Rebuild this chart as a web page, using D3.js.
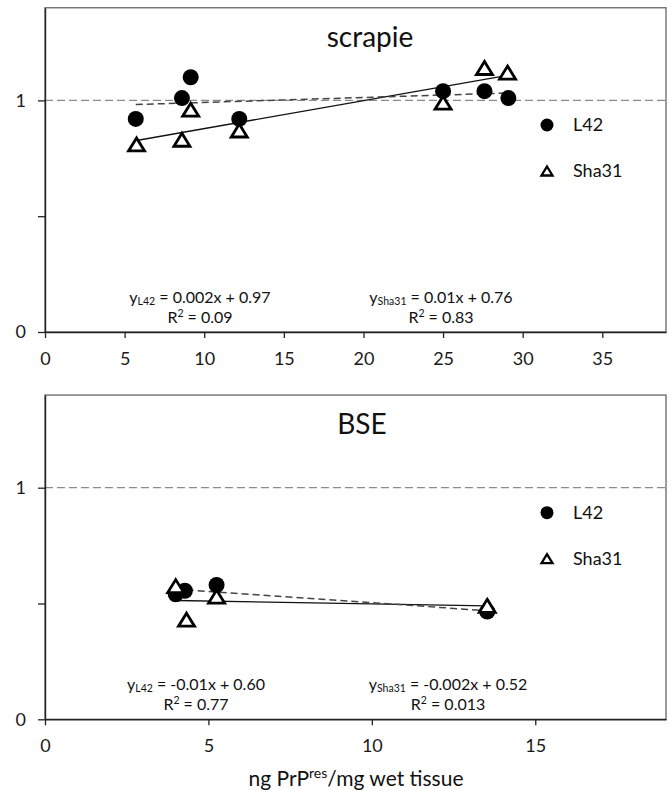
<!DOCTYPE html>
<html lang="en">
<head>
<meta charset="utf-8">
<title>PrPres ratio vs ng PrPres</title>
<script src="https://d3js.org/d3.v7.min.js"></script>
<style>
  body { margin: 0; background: #fff; }
  svg { font-family: "Lato", "Open Sans", sans-serif; }
</style>
</head>
<body>
<div id="chart"></div>
<script>
// values
var scrapieL42X = [5.7, 8.6, 9.15, 12.2, 25.0, 27.6, 29.1];
var scrapieL42Y = [0.92, 1.01, 1.10, 0.92, 1.04, 1.04, 1.01];
var scrapieSha31X = [5.75, 8.6, 9.15, 12.2, 25.0, 27.6, 29.05];
var scrapieSha31Y = [0.81, 0.83, 0.96, 0.87, 0.99, 1.14, 1.12];

var bseL42X = [4.0, 4.28, 5.25, 13.53];
var bseL42Y = [0.54, 0.555, 0.58, 0.465];
var bseSha31X = [4.0, 4.33, 5.25, 13.53];
var bseSha31Y = [0.575, 0.43, 0.53, 0.49];

var seriesNames = ["L42", "Sha31"];
var scrapieEq = ["0.002x + 0.97", "0.01x + 0.76"];
var scrapieR2 = ["0.09", "0.83"];
var bseEq = ["-0.01x + 0.60", "-0.002x + 0.52"];
var bseR2 = ["0.77", "0.013"];

var scrapieXTicks = [0, 5, 10, 15, 20, 25, 30, 35];
var bseXTicks = [0, 5, 10, 15];
var yTicks = [0, 0.5, 1];
var xLabel = "ng PrP";

var W = 672, H = 791;
var svg = d3.select("#chart").append("svg")
  .attr("width", W).attr("height", H);

function fit(xs, ys) {
  var n = xs.length;
  var mx = d3.mean(xs), my = d3.mean(ys);
  var sxy = 0, sxx = 0;
  for (var i = 0; i < n; i++) {
    sxy += (xs[i] - mx) * (ys[i] - my);
    sxx += (xs[i] - mx) * (xs[i] - mx);
  }
  var b = sxy / sxx;
  return { slope: b, icpt: my - b * mx };
}

function triPath(w, h) {
  return "M0," + (-h / 2) + "L" + (w / 2) + "," + (h / 2) + "L" + (-w / 2) + "," + (h / 2) + "Z";
}

function drawPanel(p) {
  var g = svg.append("g");
  var x = d3.scaleLinear().domain([0, p.xMax]).range([45, 666]);
  var y = d3.scaleLinear().domain([0, 1.4]).range([p.bottom, p.bottom - 1.4 * 231.6]);

  // frame
  g.append("rect")
    .attr("x", x(0)).attr("y", y(1.4))
    .attr("width", x(p.xMax) - x(0)).attr("height", y(0) - y(1.4))
    .attr("fill", "none").attr("stroke", "#666").attr("stroke-width", 1.3);

  // reference line at 1
  g.append("line")
    .attr("x1", x(0)).attr("x2", x(p.xMax))
    .attr("y1", y(1)).attr("y2", y(1))
    .attr("stroke", "#8a8a8a").attr("stroke-width", 1.2)
    .attr("stroke-dasharray", "8,4");

  var xa = g.append("g").attr("transform", "translate(0," + y(0) + ")")
    .call(d3.axisBottom(x).tickValues(p.xTicks).tickSize(6).tickSizeOuter(0).tickPadding(14));
  var ya = g.append("g").attr("transform", "translate(" + x(0) + ",0)")
    .call(d3.axisLeft(y).tickValues(yTicks).tickSize(7).tickSizeOuter(0).tickPadding(12)
      .tickFormat(function(d) { return d === 0.5 ? "" : d3.format("d")(d); }));
  [xa, ya].forEach(function(a) {
    a.selectAll("path").attr("stroke", "#222").attr("stroke-width", 1.4);
    a.selectAll("line").attr("stroke", "#222").attr("stroke-width", 1.3);
    a.selectAll("text").attr("font-size", 18).attr("fill", "#1a1a1a")
      .attr("font-family", "Lato, 'Open Sans', sans-serif");
  });

  // regression lines: L42 dashed, Sha31 solid
  var fL = fit(p.lx, p.ly), fS = fit(p.sx, p.sy);
  var lxExt = d3.extent(p.lx), sxExt = d3.extent(p.sx);
  g.append("line")
    .attr("x1", x(sxExt[0])).attr("y1", y(fS.icpt + fS.slope * sxExt[0]))
    .attr("x2", x(sxExt[1])).attr("y2", y(fS.icpt + fS.slope * sxExt[1]))
    .attr("stroke", "#111").attr("stroke-width", 1.3);
  g.append("line")
    .attr("x1", x(lxExt[0])).attr("y1", y(fL.icpt + fL.slope * lxExt[0]))
    .attr("x2", x(lxExt[1])).attr("y2", y(fL.icpt + fL.slope * lxExt[1]))
    .attr("stroke", "#444").attr("stroke-width", 1.5).attr("stroke-dasharray", "7,4");

  // points
  g.selectAll("circle.l42").data(p.lx).enter().append("circle")
    .attr("cx", function(d) { return x(d); })
    .attr("cy", function(d, i) { return y(p.ly[i]); })
    .attr("r", 8).attr("fill", "#000");
  g.selectAll("path.sha").data(p.sx).enter().append("path")
    .attr("d", triPath(16, 13))
    .attr("transform", function(d, i) { return "translate(" + x(d) + "," + y(p.sy[i]) + ")"; })
    .attr("fill", "#fff").attr("stroke", "#000").attr("stroke-width", 2.8)
    .attr("stroke-linejoin", "miter");

  // title
  g.append("text").attr("x", p.titleX).attr("y", y(1.4) + 39)
    .attr("text-anchor", "middle").attr("font-size", 28).attr("fill", "#111")
    .text(p.title);

  // legend
  var lg = g.append("g");
  lg.append("circle").attr("cx", 547).attr("cy", p.legY).attr("r", 6.5).attr("fill", "#000");
  lg.append("text").attr("x", 573).attr("y", p.legY + 6).attr("font-size", 18).attr("fill", "#111")
    .text(seriesNames[0]);
  lg.append("path").attr("d", triPath(11, 9))
    .attr("transform", "translate(547," + (p.legY + 46) + ")")
    .attr("fill", "#fff").attr("stroke", "#000").attr("stroke-width", 2.3);
  lg.append("text").attr("x", 573).attr("y", p.legY + 52).attr("font-size", 18).attr("fill", "#111")
    .text(seriesNames[1]);

  // equations
  p.eqX.forEach(function(ex, k) {
    var t = g.append("text").attr("x", ex).attr("y", y(0) - 29)
      .attr("text-anchor", "middle").attr("font-size", 16).attr("fill", "#111");
    t.append("tspan").text("y");
    t.append("tspan").attr("font-size", 10.5).attr("dy", 2).text(seriesNames[k]);
    t.append("tspan").attr("dy", -2).text(" = " + p.eq[k]);
    var r = g.append("text").attr("x", ex).attr("y", y(0) - 9)
      .attr("text-anchor", "middle").attr("font-size", 16).attr("fill", "#111");
    r.append("tspan").text("R");
    r.append("tspan").attr("font-size", 10.5).attr("dy", -6).text("2");
    r.append("tspan").attr("dy", 6).text(" = " + p.r2[k]);
  });
}

drawPanel({
  title: "scrapie", titleX: 370, xMax: 39, xTicks: scrapieXTicks, bottom: 332,
  lx: scrapieL42X, ly: scrapieL42Y, sx: scrapieSha31X, sy: scrapieSha31Y,
  legY: 125, eqX: [200, 441], eq: scrapieEq, r2: scrapieR2
});
drawPanel({
  title: "BSE", titleX: 362, xMax: 19, xTicks: bseXTicks, bottom: 719.3,
  lx: bseL42X, ly: bseL42Y, sx: bseSha31X, sy: bseSha31Y,
  legY: 512.7, eqX: [196, 448], eq: bseEq, r2: bseR2
});

// x axis title
var xt = svg.append("text").attr("x", 356).attr("y", 786)
  .attr("text-anchor", "middle").attr("font-size", 21).attr("fill", "#111");
xt.append("tspan").text(xLabel);
xt.append("tspan").attr("font-size", 14).attr("dy", -8).text("res");
xt.append("tspan").attr("dy", 8).text("/mg wet tissue");
</script>
</body>
</html>
